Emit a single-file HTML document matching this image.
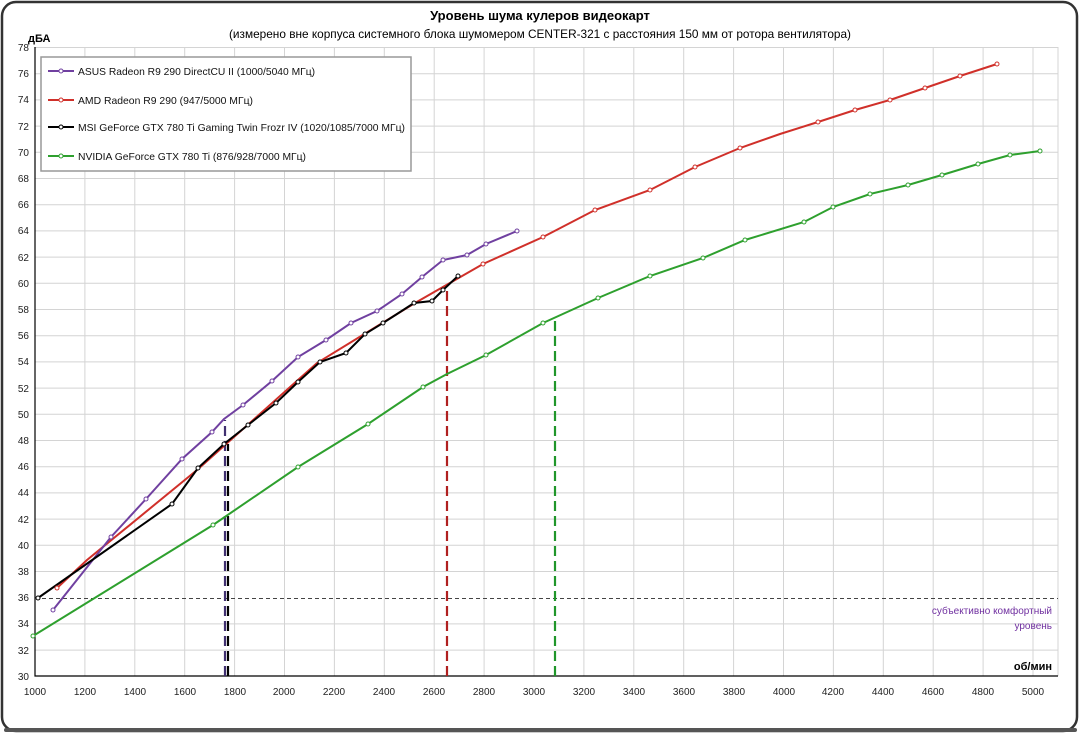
<!DOCTYPE html>
<html><head><meta charset="utf-8"><style>
body{margin:0;width:1081px;height:735px;background:#fff;overflow:hidden}
svg{display:block;font-family:"Liberation Sans","DejaVu Sans",sans-serif}
</style></head><body>
<svg width="1081" height="735" viewBox="0 0 1081 735">
<rect x="2" y="2" width="1075" height="729" rx="14" fill="#fff" stroke="#333" stroke-width="2.5"/>
<rect x="4" y="728" width="1073" height="4" rx="2" fill="#555"/>
<text x="540" y="20" text-anchor="middle" font-size="13" font-weight="bold">Уровень шума кулеров видеокарт</text>
<text x="540" y="38" text-anchor="middle" font-size="12" textLength="622" lengthAdjust="spacingAndGlyphs">(измерено вне корпуса системного блока шумомером CENTER-321 с расстояния 150 мм от ротора вентилятора)</text>
<text x="28" y="42" font-size="11" font-weight="bold">дБА</text>
<g stroke="#d4d4d4" stroke-width="1">
<path d="M35 47.5H1058M35 73.7H1058M35 99.9H1058M35 126.1H1058M35 152.3H1058M35 178.5H1058M35 204.7H1058M35 230.9H1058M35 257.1H1058M35 283.3H1058M35 309.5H1058M35 335.7H1058M35 361.9H1058M35 388.1H1058M35 414.3H1058M35 440.5H1058M35 466.7H1058M35 492.9H1058M35 519.1H1058M35 545.3H1058M35 571.5H1058M35 623.9H1058M35 650.1H1058"/>
<path d="M84.9 47V676M134.8 47V676M184.7 47V676M234.6 47V676M284.5 47V676M334.4 47V676M384.3 47V676M434.2 47V676M484.1 47V676M534 47V676M583.9 47V676M633.8 47V676M683.7 47V676M733.6 47V676M783.5 47V676M833.4 47V676M883.3 47V676M933.2 47V676M983.1 47V676M1033 47V676M1058 47V676"/>
</g>
<path d="M35 47V676H1058" fill="none" stroke="#000" stroke-width="1.2"/>
<g font-size="10" fill="#222" text-anchor="end">
<text x="29" y="51">78</text><text x="29" y="77">76</text><text x="29" y="103">74</text><text x="29" y="130">72</text><text x="29" y="156">70</text><text x="29" y="182">68</text><text x="29" y="208">66</text><text x="29" y="234">64</text><text x="29" y="261">62</text><text x="29" y="287">60</text><text x="29" y="313">58</text><text x="29" y="339">56</text><text x="29" y="365">54</text><text x="29" y="392">52</text><text x="29" y="418">50</text><text x="29" y="444">48</text><text x="29" y="470">46</text><text x="29" y="496">44</text><text x="29" y="523">42</text><text x="29" y="549">40</text><text x="29" y="575">38</text><text x="29" y="601">36</text><text x="29" y="627">34</text><text x="29" y="654">32</text><text x="29" y="680">30</text>
</g>
<g font-size="10" fill="#222" text-anchor="middle">
<text x="35" y="695">1000</text><text x="85" y="695">1200</text><text x="135" y="695">1400</text><text x="185" y="695">1600</text><text x="235" y="695">1800</text><text x="284" y="695">2000</text><text x="334" y="695">2200</text><text x="384" y="695">2400</text><text x="434" y="695">2600</text><text x="484" y="695">2800</text><text x="534" y="695">3000</text><text x="584" y="695">3200</text><text x="634" y="695">3400</text><text x="684" y="695">3600</text><text x="734" y="695">3800</text><text x="784" y="695">4000</text><text x="833" y="695">4200</text><text x="883" y="695">4400</text><text x="933" y="695">4600</text><text x="983" y="695">4800</text><text x="1033" y="695">5000</text>
</g>
<text x="1052" y="670" font-size="11" font-weight="bold" text-anchor="end">об/мин</text>
<text x="1052" y="614" font-size="10" fill="#7030a0" text-anchor="end">субъективно комфортный</text>
<text x="1052" y="629" font-size="10" fill="#7030a0" text-anchor="end">уровень</text>
<path d="M35 598.5H1058" stroke="#444" stroke-width="1" stroke-dasharray="4,3"/>
<g stroke-width="2.2" stroke-dasharray="10,5" fill="none">
<path d="M225 676V420" stroke="#403070"/>
<path d="M228 676V444" stroke="#000"/>
<path d="M447 676V290" stroke="#b02020"/>
<path d="M555 676V318" stroke="#20962a"/>
</g>
<g fill="#fff" stroke-width="1">
<polyline fill="none" stroke="#2ea02e" stroke-width="2" points="33,636 213,525 298,467 368,424 423,387 447,374 486,355 543,323 598,298 650,276 703,258 745,240 804,222 833,207 870,194 908,185 942,175 978,164 1010,155 1040,151"/>
<polyline fill="none" stroke="#d0302a" stroke-width="2" points="57,588 87,560 197,470 317,363 415,303 483,264 543,237 595,210 650,190 695,167 740,148 780,134 818,122 855,110 890,100 925,88 960,76 997,64"/>
<polyline fill="none" stroke="#7040a0" stroke-width="2" points="53,610 111,537 146,499 182,459 212,432 224,419 243,405 272,381 298,357 326,340 351,323 377,311 402,294 422,277 443,260 467,255 486,244 517,231"/>
<polyline fill="none" stroke="#000" stroke-width="2" points="38,598 172,504 198,468 224,444 248,425 276,403 298,382 320,362 346,353 365,334 383,323 397,314 414,303 432,301 443,290 458,276"/>
</g>
<g fill="#fff" stroke-width="1">
<g stroke="#2ea02e"><circle cx="33" cy="636" r="2"/><circle cx="213" cy="525" r="2"/><circle cx="298" cy="467" r="2"/><circle cx="368" cy="424" r="2"/><circle cx="423" cy="387" r="2"/><circle cx="486" cy="355" r="2"/><circle cx="543" cy="323" r="2"/><circle cx="598" cy="298" r="2"/><circle cx="650" cy="276" r="2"/><circle cx="703" cy="258" r="2"/><circle cx="745" cy="240" r="2"/><circle cx="804" cy="222" r="2"/><circle cx="833" cy="207" r="2"/><circle cx="870" cy="194" r="2"/><circle cx="908" cy="185" r="2"/><circle cx="942" cy="175" r="2"/><circle cx="978" cy="164" r="2"/><circle cx="1010" cy="155" r="2"/><circle cx="1040" cy="151" r="2"/></g>
<g stroke="#d0302a"><circle cx="57" cy="588" r="2"/><circle cx="543" cy="237" r="2"/><circle cx="595" cy="210" r="2"/><circle cx="650" cy="190" r="2"/><circle cx="695" cy="167" r="2"/><circle cx="740" cy="148" r="2"/><circle cx="818" cy="122" r="2"/><circle cx="855" cy="110" r="2"/><circle cx="890" cy="100" r="2"/><circle cx="925" cy="88" r="2"/><circle cx="960" cy="76" r="2"/><circle cx="997" cy="64" r="2"/><circle cx="483" cy="264" r="2"/></g>
<g stroke="#7040a0"><circle cx="53" cy="610" r="2"/><circle cx="111" cy="537" r="2"/><circle cx="146" cy="499" r="2"/><circle cx="182" cy="459" r="2"/><circle cx="212" cy="432" r="2"/><circle cx="243" cy="405" r="2"/><circle cx="272" cy="381" r="2"/><circle cx="298" cy="357" r="2"/><circle cx="326" cy="340" r="2"/><circle cx="351" cy="323" r="2"/><circle cx="377" cy="311" r="2"/><circle cx="402" cy="294" r="2"/><circle cx="422" cy="277" r="2"/><circle cx="443" cy="260" r="2"/><circle cx="467" cy="255" r="2"/><circle cx="486" cy="244" r="2"/><circle cx="517" cy="231" r="2"/></g>
<g stroke="#000"><circle cx="38" cy="598" r="2"/><circle cx="172" cy="504" r="2"/><circle cx="198" cy="468" r="2"/><circle cx="224" cy="444" r="2"/><circle cx="248" cy="425" r="2"/><circle cx="276" cy="403" r="2"/><circle cx="298" cy="382" r="2"/><circle cx="320" cy="362" r="2"/><circle cx="346" cy="353" r="2"/><circle cx="365" cy="334" r="2"/><circle cx="383" cy="323" r="2"/><circle cx="414" cy="303" r="2"/><circle cx="432" cy="301" r="2"/><circle cx="443" cy="290" r="2"/><circle cx="458" cy="276" r="2"/></g>
</g>
<rect x="41" y="57" width="370" height="114" fill="#fff" stroke="#999" stroke-width="1.5"/>
<g font-size="10.5" fill="#111">
<line x1="48" y1="71" x2="74" y2="71" stroke="#7040a0" stroke-width="2"/><circle cx="61" cy="71" r="2" fill="#fff" stroke="#7040a0"/><text x="78" y="75" textLength="237" lengthAdjust="spacingAndGlyphs">ASUS Radeon R9 290 DirectCU II (1000/5040 МГц)</text>
<line x1="48" y1="100" x2="74" y2="100" stroke="#d0302a" stroke-width="2"/><circle cx="61" cy="100" r="2" fill="#fff" stroke="#d0302a"/><text x="78" y="104" textLength="175" lengthAdjust="spacingAndGlyphs">AMD Radeon R9 290 (947/5000 МГц)</text>
<line x1="48" y1="127" x2="74" y2="127" stroke="#000" stroke-width="2"/><circle cx="61" cy="127" r="2" fill="#fff" stroke="#000"/><text x="78" y="131" textLength="327" lengthAdjust="spacingAndGlyphs">MSI GeForce GTX 780 Ti Gaming Twin Frozr IV (1020/1085/7000 МГц)</text>
<line x1="48" y1="156" x2="74" y2="156" stroke="#2ea02e" stroke-width="2"/><circle cx="61" cy="156" r="2" fill="#fff" stroke="#2ea02e"/><text x="78" y="160" textLength="228" lengthAdjust="spacingAndGlyphs">NVIDIA GeForce GTX 780 Ti (876/928/7000 МГц)</text>
</g>
</svg>
</body></html>
